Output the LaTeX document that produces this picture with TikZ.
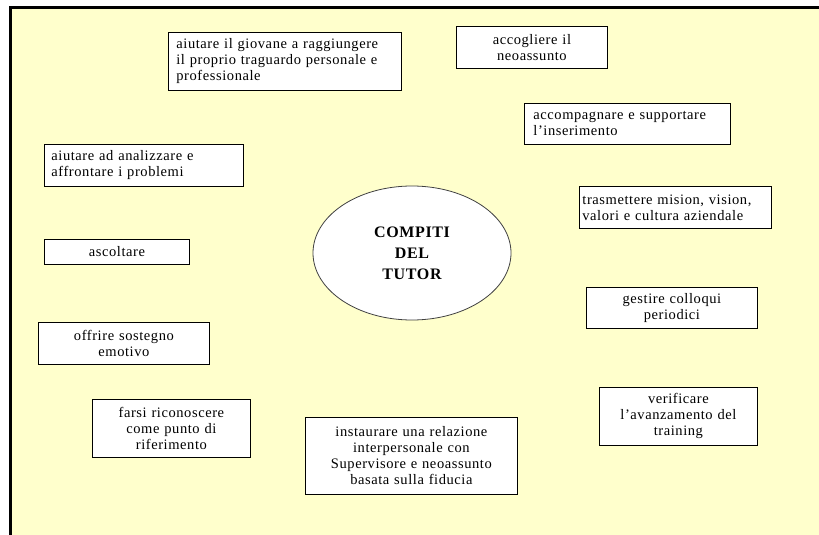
\documentclass[tikz,border=0pt]{standalone}
\usepackage{fontspec}
\setmainfont{Liberation Serif}[LetterSpace=4]
\usetikzlibrary{positioning,shapes.geometric}
\definecolor{fondo}{RGB}{255,255,204}

\begin{document}
\begin{tikzpicture}[x=1pt,y=-1pt,
  compito/.style={draw,fill=white,line width=0.8pt,anchor=north west,inner xsep=8pt,inner ysep=0pt,
    font=\fontsize{14.5}{16}\selectfont},
  sx/.style={align=left,text width=#1},
  cx/.style={align=center,text width=#1}]
\useasboundingbox[fill=white] (0,0) rectangle (819,535);
\fill[fondo] (10,7.5) rectangle (819,535);
\draw[line width=3pt] (10,535)--(10,7.5)--(819,7.5);
% centro
\node[draw=black!75,fill=white,ellipse,line width=0.8pt,minimum width=198pt,minimum height=134pt,inner sep=0pt,
  font=\fontsize{16}{21}\selectfont\bfseries,align=center] (tutor) at (412,253) {COMPITI\\DEL\\TUTOR};
% a sinistra
\node[compito,sx=217pt,minimum width=233pt,minimum height=58pt] (giovane) at (168,32) {aiutare il giovane a raggiungere\\il proprio traguardo personale e\\professionale};
\node[compito,sx=185pt,inner xsep=7pt,minimum width=199pt,minimum height=42pt] (problemi) at (44,144) {aiutare ad analizzare e\\affrontare i problemi};
\node[compito,cx=129pt,minimum width=145pt,minimum height=25pt] (ascoltare) at (44,239) {ascoltare};
\node[compito,cx=155pt,minimum width=171pt,minimum height=42pt] (sostegno) at (38,322) {offrire sostegno\\emotivo};
\node[compito,cx=142pt,minimum width=158pt,minimum height=58pt] (riferimento) at (92,399) {farsi riconoscere\\come punto di\\riferimento};
\node[compito,cx=196pt,minimum width=212pt,minimum height=77pt] (relazione) at (305,417) {instaurare una relazione\\interpersonale con\\Supervisore e neoassunto\\basata sulla fiducia};
% a destra
\node[compito,cx=135pt,minimum width=151pt,minimum height=42pt] (accogliere) at (456,26) {accogliere il\\neoassunto};
\node[compito,sx=188pt,inner xsep=9pt,minimum width=206pt,minimum height=41pt] (inserimento) at (524,103) {accompagnare e supportare\\l'inserimento};
\node[compito,sx=186pt,inner xsep=3pt,minimum width=192pt,minimum height=42pt] (mision) at (579,186) {trasmettere mision, vision,\\valori e cultura aziendale};
\node[compito,cx=155pt,minimum width=171pt,minimum height=41pt] (colloqui) at (586,287) {gestire colloqui\\periodici};
\node[compito,cx=142pt,minimum width=158pt,minimum height=58pt] (training) at (599,387) {verificare\\l'avanzamento del\\training};
\end{tikzpicture}
\end{document}
